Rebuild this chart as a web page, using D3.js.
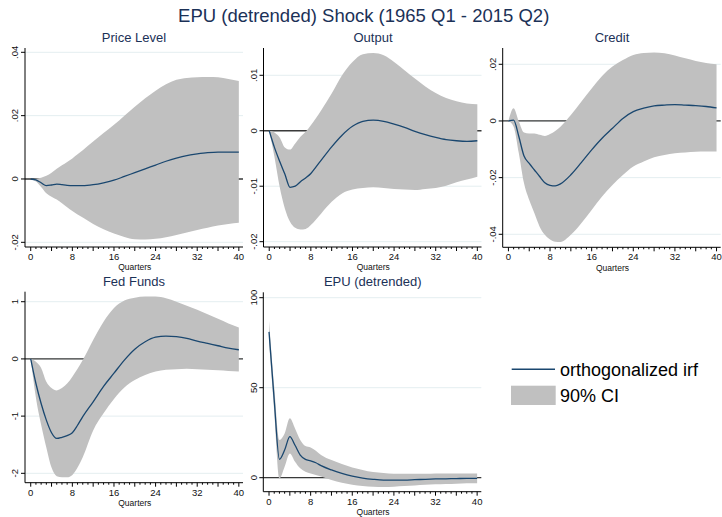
<!DOCTYPE html>
<html>
<head>
<meta charset="utf-8">
<script src="https://cdn.jsdelivr.net/npm/d3@7"></script>
<style>
  html, body { margin: 0; padding: 0; background: #fff; }
  svg { display: block; font-family: "Liberation Sans", Arial, sans-serif; }
</style>
</head>
<body>
<svg id="chart" width="722" height="517"></svg>
<script>
// ---------------- DATA ----------------
const chartTitle = "EPU (detrended) Shock (1965 Q1 - 2015 Q2)";
const panelTitles = ["Price Level", "Output", "Credit", "Fed Funds", "EPU (detrended)"];
const quarters = [0,1,2,3,4,5,6,7,8,9,10,12,14,16,18,20,22,24,26,28,30,32,34,36,38,40];
const xTickLabels = [0, 8, 16, 24, 32, 40];
const xAxisLabel = "Quarters";
const legendLabels = ["orthogonalized irf", "90% CI"];

// Price Level
const priceIrf = [0,-0.0003,-0.0012,-0.0021,-0.0019,-0.0016,-0.0018,-0.0020,-0.0021,-0.0021,-0.0021,-0.0018,-0.0012,-0.0004,0.0008,0.0020,0.0032,0.0044,0.0056,0.0066,0.0074,0.0079,0.0083,0.0085,0.0085,0.0085];
const priceHi  = [0,0.0001,0.0004,0.0010,0.0020,0.0032,0.0043,0.0054,0.0065,0.0078,0.0091,0.0118,0.0145,0.0171,0.0200,0.0228,0.0255,0.0279,0.0299,0.0313,0.0319,0.0321,0.0322,0.0321,0.0316,0.0309];
const priceLo  = [0,-0.0008,-0.0025,-0.0045,-0.0056,-0.0065,-0.0077,-0.0089,-0.0101,-0.0112,-0.0122,-0.0142,-0.0159,-0.0172,-0.0183,-0.0190,-0.0191,-0.0189,-0.0184,-0.0177,-0.0169,-0.0161,-0.0154,-0.0147,-0.0142,-0.0138];
const priceTicks = [-0.02, 0, 0.02, 0.04];
const priceTickLabels = ["-.02", "0", ".02", ".04"];

// Output
const outputIrf = [0,-0.0030,-0.0055,-0.0078,-0.0102,-0.0100,-0.0092,-0.0085,-0.0077,-0.0065,-0.0053,-0.0029,-0.0008,0.0008,0.0017,0.0019,0.0017,0.0012,0.0006,-0.0001,-0.0007,-0.0012,-0.0016,-0.0018,-0.0019,-0.0018];
const outputHi  = [0,-0.0003,-0.0012,-0.0030,-0.0034,-0.0023,-0.0011,-0.0002,0.0010,0.0023,0.0037,0.0067,0.0100,0.0124,0.0138,0.0140,0.0136,0.0124,0.0109,0.0094,0.0080,0.0068,0.0059,0.0053,0.0049,0.0048];
const outputLo  = [0,-0.0047,-0.0101,-0.0140,-0.0164,-0.0175,-0.0178,-0.0177,-0.0170,-0.0160,-0.0149,-0.0128,-0.0113,-0.0106,-0.0103,-0.0102,-0.0103,-0.0105,-0.0106,-0.0107,-0.0105,-0.0103,-0.0099,-0.0093,-0.0088,-0.0083];
const outputTicks = [-0.02, -0.01, 0, 0.01];
const outputTickLabels = ["-.02", "-.01", "0", ".01"];

// Credit
const creditIrf = [0,0.0003,-0.0055,-0.0124,-0.0150,-0.0173,-0.0196,-0.0218,-0.0227,-0.0229,-0.0222,-0.0190,-0.0147,-0.0102,-0.0061,-0.0026,0.0009,0.0033,0.0045,0.0053,0.0056,0.0058,0.0056,0.0054,0.0051,0.0046];
const creditHi  = [0,0.0045,-0.0002,-0.0041,-0.0044,-0.0044,-0.0049,-0.0053,-0.0046,-0.0035,-0.0020,0.0021,0.0068,0.0115,0.0159,0.0192,0.0215,0.0233,0.0240,0.0242,0.0239,0.0231,0.0221,0.0212,0.0205,0.0200];
const creditLo  = [0,-0.0020,-0.0114,-0.0220,-0.0279,-0.0326,-0.0373,-0.0402,-0.0418,-0.0426,-0.0427,-0.0402,-0.0361,-0.0314,-0.0267,-0.0226,-0.0191,-0.0161,-0.0143,-0.0128,-0.0120,-0.0114,-0.0111,-0.0109,-0.0108,-0.0108];
const creditTicks = [-0.04, -0.02, 0, 0.02];
const creditTickLabels = ["-.04", "-.02", "0", ".02"];

// Fed Funds
const fedIrf = [0,-0.43,-0.78,-1.07,-1.29,-1.39,-1.37,-1.34,-1.29,-1.16,-1.01,-0.75,-0.48,-0.25,-0.02,0.17,0.30,0.38,0.40,0.39,0.36,0.31,0.27,0.23,0.19,0.16];
const fedHi  = [0,-0.05,-0.16,-0.40,-0.51,-0.55,-0.51,-0.43,-0.31,-0.17,-0.02,0.33,0.65,0.89,1.02,1.07,1.09,1.09,1.06,1.00,0.93,0.86,0.78,0.70,0.62,0.55];
const fedLo  = [0,-0.68,-1.15,-1.55,-1.90,-2.05,-2.07,-2.07,-2.03,-1.90,-1.72,-1.25,-0.95,-0.70,-0.50,-0.37,-0.28,-0.22,-0.19,-0.18,-0.17,-0.18,-0.19,-0.20,-0.21,-0.22];
const fedTicks = [-2, -1, 0, 1];
const fedTickLabels = ["-2", "-1", "0", "1"];

// EPU (detrended)
const epuIrf = [81,43,10.2,15.4,22.8,18,12.6,10.2,9.4,8.3,6.7,4.3,2.4,0.9,-0.2,-0.9,-1.3,-1.3,-1.3,-1.1,-0.9,-0.7,-0.6,-0.5,-0.4,-0.4];
const epuHi  = [87,50.5,21,24.6,33,27.4,21,17.6,16.8,15,12.6,9.8,7.6,5.7,4.3,3.1,2.6,2.2,2.2,2.2,2.2,2.4,2.4,2.4,2.4,2.4];
const epuLo  = [75.5,36.6,-0.4,6.1,13.5,8.9,5.2,3.3,2.4,1.5,0.6,-1.3,-2.8,-3.9,-4.6,-5,-5.2,-5,-4.6,-4.3,-3.9,-3.7,-3.5,-3.3,-3.1,-3.1];
const epuTicks = [0, 50, 100];
const epuTickLabels = ["0", "50", "100"];

// ---------------- STYLE / LAYOUT ----------------
const C = {
  title: "#1b3157",
  line: "#1a476f",
  band: "#c0c0c0",
  grid: "#e4eef0",
  zero: "#3a3a3a",
  axis: "#000"
};

const panels = [
  { title: panelTitles[0], irf: priceIrf, hi: priceHi, lo: priceLo, ticks: priceTicks, tickLabels: priceTickLabels,
    left: 25, right: 243, top: 48, bottom: 247, ydom: [-0.02148, 0.04136], titleX: 134, titleY: 37 },
  { title: panelTitles[1], irf: outputIrf, hi: outputHi, lo: outputLo, ticks: outputTicks, tickLabels: outputTickLabels,
    left: 263.5, right: 481.5, top: 48, bottom: 247, ydom: [-0.02096, 0.01492], titleX: 373, titleY: 37 },
  { title: panelTitles[2], irf: creditIrf, hi: creditHi, lo: creditLo, ticks: creditTicks, tickLabels: creditTickLabels,
    left: 502.7, right: 720.7, top: 48, bottom: 247.3, ydom: [-0.04459, 0.02575], titleX: 612, titleY: 37 },
  { title: panelTitles[3], irf: fedIrf, hi: fedHi, lo: fedLo, ticks: fedTicks, tickLabels: fedTickLabels,
    left: 25, right: 243, top: 291.7, bottom: 482.7, ydom: [-2.164, 1.175], titleX: 134, titleY: 281 },
  { title: panelTitles[4], irf: epuIrf, hi: epuHi, lo: epuLo, ticks: epuTicks, tickLabels: epuTickLabels,
    left: 263.3, right: 481.3, top: 292.3, bottom: 491.7, ydom: [-7.78, 103], titleX: 372.7, titleY: 281 }
];

const svg = d3.select("#chart");

svg.append("text")
  .attr("x", 363.7).attr("y", 21.6)
  .attr("text-anchor", "middle")
  .attr("font-size", "18.5px")
  .attr("fill", C.title)
  .text(chartTitle);

panels.forEach(p => {
  const g = svg.append("g");
  const x = d3.scaleLinear().domain([-1.1, 40.8]).range([p.left, p.right]);
  const y = d3.scaleLinear().domain(p.ydom).range([p.bottom, p.top]);

  // title
  g.append("text")
    .attr("x", p.titleX).attr("y", p.titleY + 4.6)
    .attr("text-anchor", "middle")
    .attr("font-size", "13px")
    .attr("fill", C.title)
    .text(p.title);

  // gridlines
  g.selectAll("line.grid").data(p.ticks).enter().append("line")
    .attr("x1", p.left).attr("x2", p.right)
    .attr("y1", d => y(d)).attr("y2", d => y(d))
    .attr("stroke", C.grid).attr("stroke-width", 1);

  // zero line
  g.append("line")
    .attr("x1", p.left).attr("x2", p.right)
    .attr("y1", y(0)).attr("y2", y(0))
    .attr("stroke", C.zero).attr("stroke-width", 1.3);

  const rows = quarters.map((q, i) => ({ q, v: p.irf[i], hi: p.hi[i], lo: p.lo[i] }));

  // band
  g.append("path")
    .datum(rows)
    .attr("fill", C.band)
    .attr("d", d3.area().x(d => x(d.q)).y0(d => y(d.lo)).y1(d => y(d.hi)).curve(d3.curveMonotoneX));

  // irf
  g.append("path")
    .datum(rows)
    .attr("fill", "none")
    .attr("stroke", C.line)
    .attr("stroke-width", 1.3)
    .attr("d", d3.line().x(d => x(d.q)).y(d => y(d.v)).curve(d3.curveMonotoneX));

  // y axis
  g.append("line")
    .attr("x1", p.left).attr("x2", p.left)
    .attr("y1", p.top).attr("y2", p.bottom)
    .attr("stroke", C.axis).attr("stroke-width", 1);
  g.selectAll("line.ytick").data(p.ticks).enter().append("line")
    .attr("x1", p.left - 4).attr("x2", p.left)
    .attr("y1", d => y(d)).attr("y2", d => y(d))
    .attr("stroke", C.axis).attr("stroke-width", 1);
  g.selectAll("text.ylab").data(p.ticks).enter().append("text")
    .attr("transform", d => `translate(${p.left - 10},${y(d)}) rotate(-90)`)
    .attr("dy", "0.35em")
    .attr("text-anchor", "middle")
    .attr("font-size", "9.5px")
    .attr("fill", "#111")
    .text((d, i) => p.tickLabels[i]);

  // x axis
  g.append("line")
    .attr("x1", p.left).attr("x2", p.right)
    .attr("y1", p.bottom).attr("y2", p.bottom)
    .attr("stroke", C.axis).attr("stroke-width", 1);
  const allQ = d3.range(0, 41);
  g.selectAll("line.xtick").data(allQ).enter().append("line")
    .attr("x1", d => x(d)).attr("x2", d => x(d))
    .attr("y1", p.bottom)
    .attr("y2", d => p.bottom + (d % 4 === 0 ? 4 : 2))
    .attr("stroke", C.axis).attr("stroke-width", 1);
  g.selectAll("text.xlab").data(xTickLabels).enter().append("text")
    .attr("x", d => x(d)).attr("y", p.bottom + 13)
    .attr("text-anchor", "middle")
    .attr("font-size", "9.5px")
    .attr("fill", "#111")
    .text(d => d);
  g.append("text")
    .attr("x", x(20)).attr("y", p.bottom + 23.3)
    .attr("text-anchor", "middle")
    .attr("font-size", "8.5px")
    .attr("fill", "#111")
    .text(xAxisLabel);
});

// legend
const lg = svg.append("g");
lg.append("line")
  .attr("x1", 511.7).attr("x2", 555).attr("y1", 369.3).attr("y2", 369.3)
  .attr("stroke", C.line).attr("stroke-width", 1.5);
lg.append("text")
  .attr("x", 560).attr("y", 375.8)
  .attr("font-size", "18px").attr("fill", "#000")
  .text(legendLabels[0]);
lg.append("rect")
  .attr("x", 511).attr("y", 385.7).attr("width", 44.7).attr("height", 19.3)
  .attr("fill", C.band);
lg.append("text")
  .attr("x", 560).attr("y", 402.3)
  .attr("font-size", "18px").attr("fill", "#000")
  .text(legendLabels[1]);
</script>
</body>
</html>
